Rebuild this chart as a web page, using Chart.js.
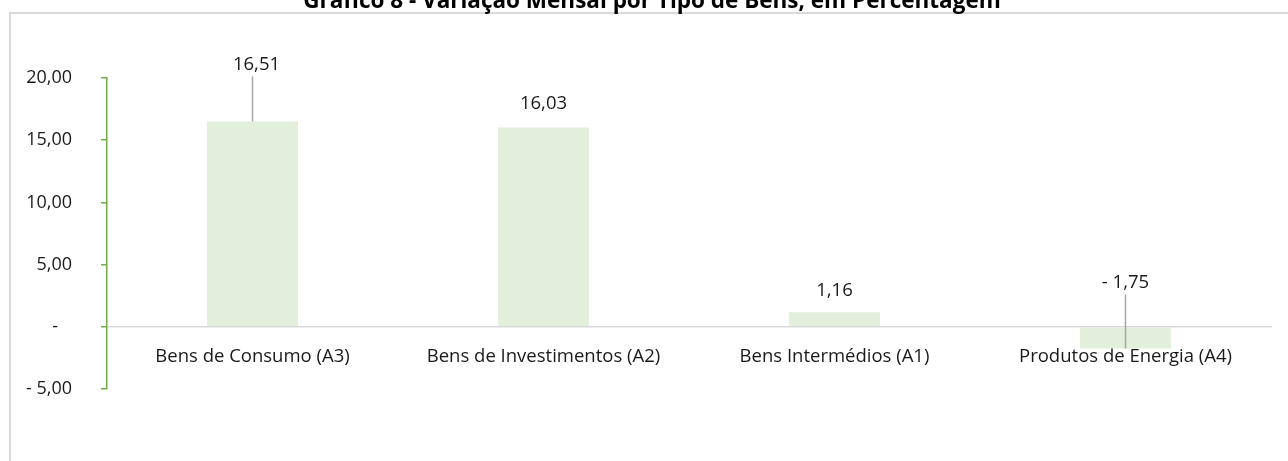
<!DOCTYPE html>
<html><head><meta charset="utf-8">
<script src="https://cdn.jsdelivr.net/npm/chart.js@4/dist/chart.umd.min.js"></script>
<style>html,body{margin:0;padding:0;background:#fff;overflow:hidden}#wrap{position:relative;width:1288px;height:461px}</style>
</head><body><div id="wrap"><canvas id="c" width="1288" height="461"></canvas></div>
<script>
const chartTitle = 'Gráfico 8 - Variação Mensal por Tipo de Bens, em Percentagem';
const categories = ['Bens de Consumo (A3)', 'Bens de Investimentos (A2)', 'Bens Intermédios (A1)', 'Produtos de Energia (A4)'];
const values = [16.51, 16.03, 1.16, -1.75];
const yTickValues = [20, 15, 10, 5, 0, -5];

const FONT = '"Open Sans", "Liberation Sans", sans-serif';
const TXT = '#1a1a1a';
function fmt(v) {
  if (Math.abs(v) < 1e-9) return '-   ';
  return (v < 0 ? '- ' : '') + Math.abs(v).toFixed(2).replace('.', ',');
}

const framePlugin = {
  id: 'frame',
  beforeDraw(chart) {
    const ctx = chart.ctx;
    ctx.save();
    ctx.fillStyle = '#fff';
    ctx.fillRect(0, 0, chart.width, chart.height);
    ctx.strokeStyle = '#D9D9D9';
    ctx.lineWidth = 2;
    ctx.strokeRect(10, 13, chart.width + 20, chart.height + 20);
    ctx.fillStyle = '#000';
    ctx.font = 'bold 22.5px ' + FONT;
    ctx.textAlign = 'center';
    ctx.textBaseline = 'alphabetic';
    ctx.fillText(chartTitle, 652, 8);
    ctx.restore();
  }
};

const labelPlugin = {
  id: 'barLabels',
  afterDraw(chart, args, opts) {
    const ctx = chart.ctx;
    const meta = chart.getDatasetMeta(0);
    const ys = chart.scales.y;
    ctx.save();
    ctx.font = '18.5px ' + FONT;
    ctx.fillStyle = TXT;
    ctx.textAlign = 'center';
    ctx.textBaseline = 'middle';
    meta.data.forEach((bar, i) => {
      const v = values[i];
      const endY = ys.getPixelForValue(v);
      const lift = opts.lift[i];
      const ly = endY - lift;
      if (lift > 30) {
        ctx.strokeStyle = '#A6A6A6';
        ctx.lineWidth = 1.5;
        ctx.beginPath();
        ctx.moveTo(bar.x, ly + 12);
        ctx.lineTo(bar.x, endY);
        ctx.stroke();
      }
      ctx.fillText(fmt(v).trim(), bar.x + (i === 0 ? 4 : 0), ly);
    });
    ctx.restore();
  }
};

new Chart(document.getElementById('c'), {
  type: 'bar',
  data: {
    labels: categories,
    datasets: [{
      data: values,
      backgroundColor: '#E2EFDA',
      borderWidth: 0,
      categoryPercentage: 1,
      barPercentage: 0.313
    }]
  },
  options: {
    responsive: false,
    animation: false,
    layout: { padding: { left: 0, right: 17, top: 78, bottom: 72 } },
    plugins: {
      legend: { display: false },
      tooltip: { enabled: false },
      barLabels: { lift: [57, 24, 22, 66] }
    },
    scales: {
      x: {
        type: 'category',
        position: { y: 0 },
        z: 1,
        grid: { display: false },
        border: { display: true, color: '#D9D9D9', width: 1.5 },
        ticks: { font: { family: FONT, size: 18.5 }, color: TXT, padding: 11, autoSkip: false, maxRotation: 0 }
      },
      y: {
        position: 'left',
        min: -5,
        max: 20,
        afterFit(s) { s.width = 107; },
        afterBuildTicks(s) { s.ticks = yTickValues.map(v => ({ value: v })); },
        grid: { drawOnChartArea: false, drawTicks: true, tickLength: 6, color: '#70AD47', lineWidth: 1.5 },
        border: { display: true, color: '#70AD47', width: 1.5 },
        ticks: { font: { family: FONT, size: 18 }, color: TXT, padding: 29, callback: v => fmt(v) }
      }
    }
  },
  plugins: [framePlugin, labelPlugin]
});
</script></body></html>
